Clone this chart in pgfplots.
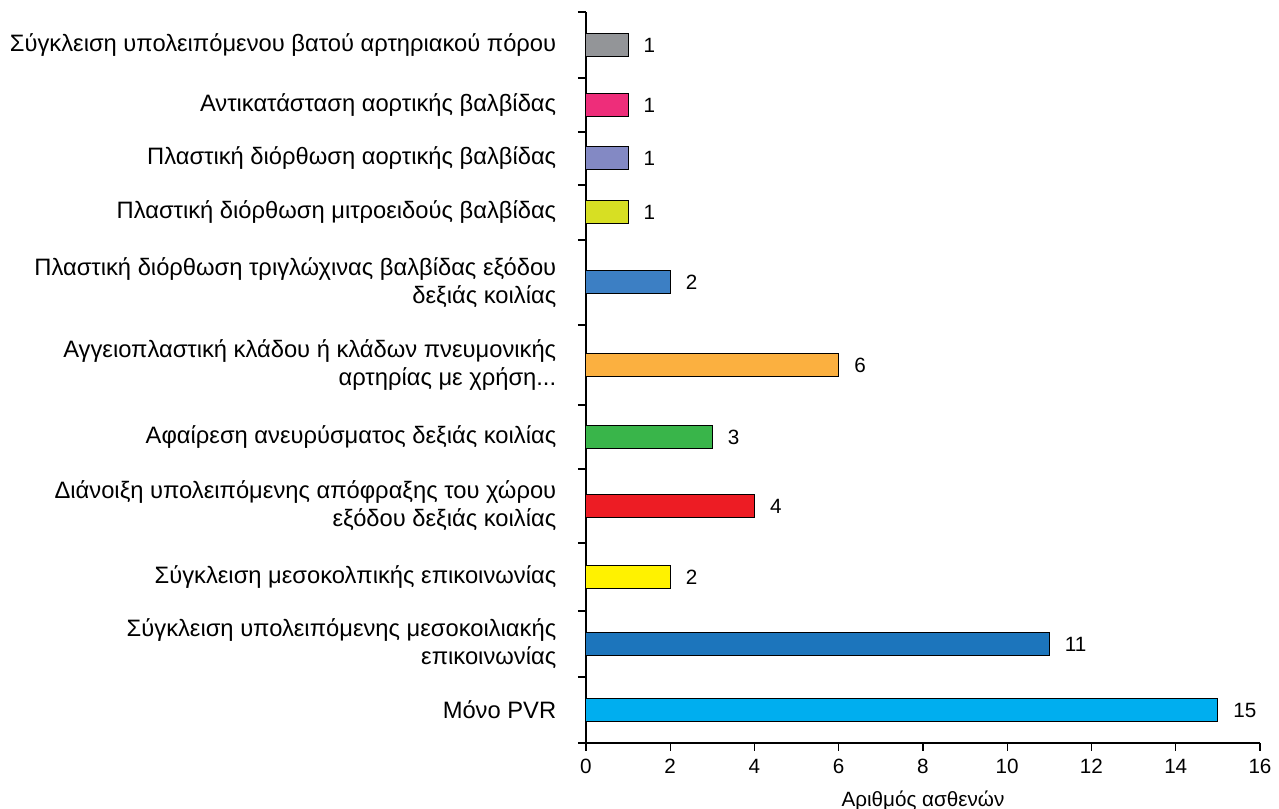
\documentclass[border=0pt]{standalone}
\usepackage{pgfplots}
\pgfplotsset{compat=1.18}
\usepackage{fontspec}
\setmainfont{Liberation Sans}

\definecolor{cGray}{HTML}{939598}
\definecolor{cPink}{HTML}{EE2D7A}
\definecolor{cLav}{HTML}{8389C4}
\definecolor{cLime}{HTML}{D7DF23}
\definecolor{cBlue}{HTML}{3C7FC4}
\definecolor{cOrange}{HTML}{FBB040}
\definecolor{cGreen}{HTML}{39B54A}
\definecolor{cRed}{HTML}{ED1C24}
\definecolor{cYellow}{HTML}{FFF200}
\definecolor{cDBlue}{HTML}{1C75BC}
\definecolor{cCyan}{HTML}{00AEEF}

\begin{document}
\begin{tikzpicture}
% category rows are not evenly spaced in the original; y is in pixel-like units
\begin{axis}[
    name=ax,
    scale only axis,
    width=505.5pt, height=548.25pt,
    xbar, bar width=17.25pt, bar shift=0pt,
    xmin=0, xmax=16, ymin=0, ymax=731,
    axis lines=left,
    axis line style={-, line width=0.9pt, black},
    xtick={0,2,...,16},
    ytick={33,99,166,237,306,378,460.5,530.5,584.5,638,698},
    minor ytick={0,66,132,200,274,338,418,503,558,611,665,731},
    major y tick style={draw=none},
    minor y tick style={line width=0.9pt, black},
    major x tick style={line width=0.9pt, black},
    tick align=outside,
    major tick length=6pt, minor tick length=6pt,
    yticklabels={
        {Μόνο PVR},
        {Σύγκλειση υπολειπόμενης μεσοκοιλιακής\\επικοινωνίας},
        {Σύγκλειση μεσοκολπικής επικοινωνίας},
        {Διάνοιξη υπολειπόμενης απόφραξης του χώρου\\εξόδου δεξιάς κοιλίας},
        {Αφαίρεση ανευρύσματος δεξιάς κοιλίας},
        {Αγγειοπλαστική κλάδου ή κλάδων πνευμονικής\\αρτηρίας με χρήση{.}{.}{.}},
        {Πλαστική διόρθωση τριγλώχινας βαλβίδας εξόδου\\δεξιάς κοιλίας},
        {Πλαστική διόρθωση μιτροειδούς βαλβίδας},
        {Πλαστική διόρθωση αορτικής βαλβίδας},
        {Αντικατάσταση αορτικής βαλβίδας},
        {Σύγκλειση υπολειπόμενου βατού αρτηριακού πόρου}},
    yticklabel style={align=right, font=\fontsize{17.8}{21}\selectfont, xshift=-12.8pt},
    xticklabel style={font=\fontsize{15.5}{18}\selectfont, yshift=-2.5pt},
    /pgf/number format/assume math mode=true,
    xlabel={Αριθμός ασθενών},
    xlabel style={font=\fontsize{15.5}{18}\selectfont, at={(axis description cs:0.5,0)}, anchor=base, yshift=-48pt},
    nodes near coords,
    every node near coord/.append style={font=\fontsize{15.5}{18}\selectfont, black, xshift=8pt},
    clip=false,
]
\addplot[fill=cCyan, draw=black, line width=0.75pt] coordinates {(15,33)};
\addplot[fill=cDBlue, draw=black, line width=0.75pt] coordinates {(11,99)};
\addplot[fill=cYellow, draw=black, line width=0.75pt] coordinates {(2,166)};
\addplot[fill=cRed, draw=black, line width=0.75pt] coordinates {(4,237)};
\addplot[fill=cGreen, draw=black, line width=0.75pt] coordinates {(3,306)};
\addplot[fill=cOrange, draw=black, line width=0.75pt] coordinates {(6,378)};
\addplot[fill=cBlue, draw=black, line width=0.75pt] coordinates {(2,460.5)};
\addplot[fill=cLime, draw=black, line width=0.75pt] coordinates {(1,530.5)};
\addplot[fill=cLav, draw=black, line width=0.75pt] coordinates {(1,584.5)};
\addplot[fill=cPink, draw=black, line width=0.75pt] coordinates {(1,638)};
\addplot[fill=cGray, draw=black, line width=0.75pt] coordinates {(1,698)};
\end{axis}
\pgfresetboundingbox
\useasboundingbox ([xshift=-439.5pt,yshift=-49.5pt]ax.south west) rectangle ++(959.25pt,606.75pt);
\end{tikzpicture}
\end{document}
